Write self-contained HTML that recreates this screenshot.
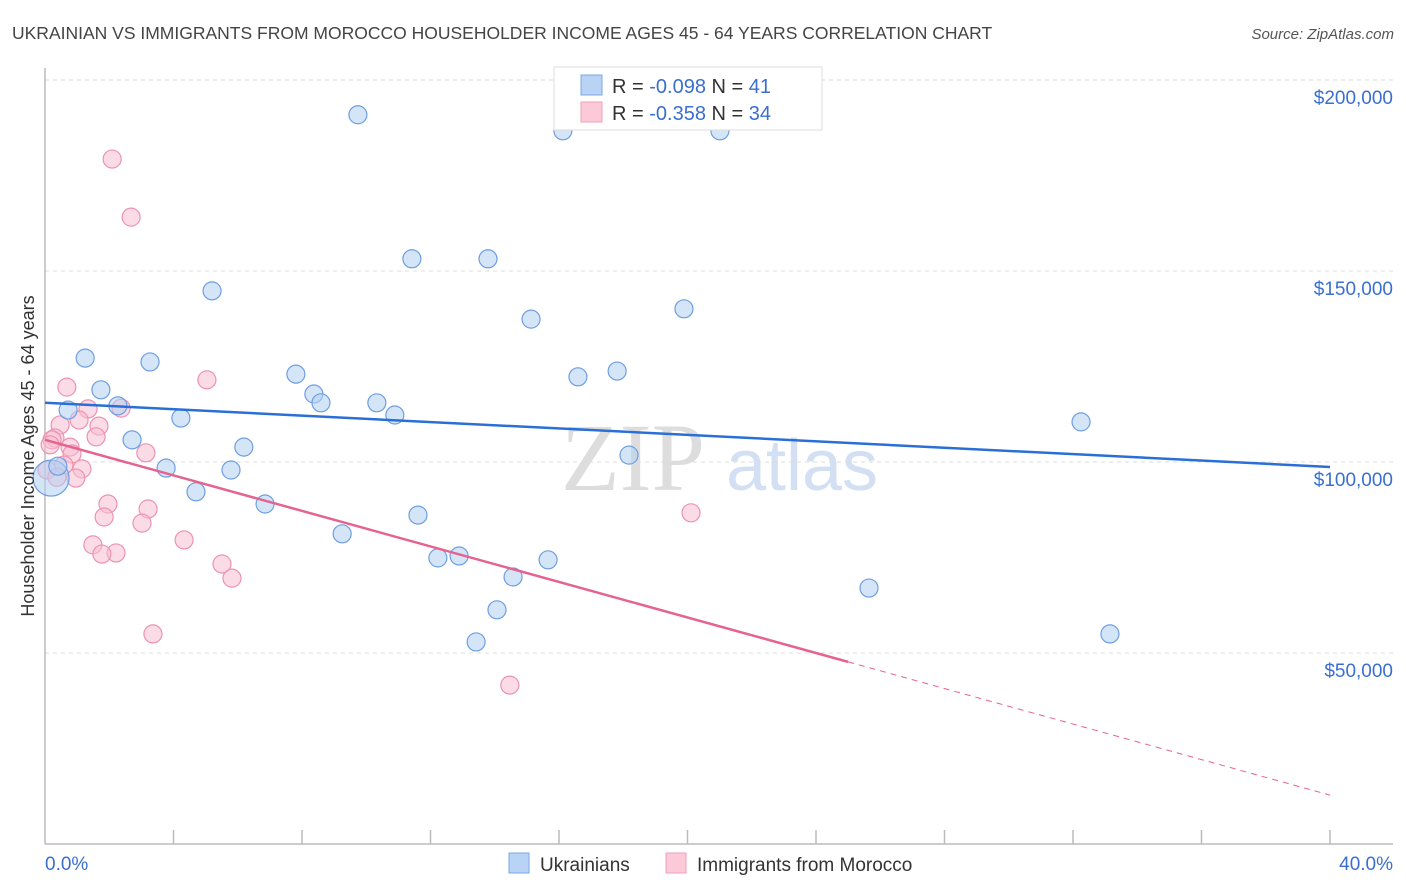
<!DOCTYPE html>
<html><head><meta charset="utf-8"><style>
body{margin:0;background:#fff;font-family:"Liberation Sans",sans-serif}
svg{display:block}
</style></head><body>
<svg id="chart" width="1406" height="892">
<text x="12" y="39" font-size="17.5" fill="#444">UKRAINIAN VS IMMIGRANTS FROM MOROCCO HOUSEHOLDER INCOME AGES 45 - 64 YEARS CORRELATION CHART</text>
<text x="1394" y="39" font-size="15" fill="#555" font-style="italic" text-anchor="end">Source: ZipAtlas.com</text>
<text x="633" y="490" font-size="96" fill="#ddd" font-family="Liberation Serif,serif" text-anchor="middle">ZIP</text>
<text x="802" y="490" font-size="72" fill="#d3e0f3" text-anchor="middle">atlas</text>
<g id="grid"></g><g id="axes"></g><g id="marks"></g>
<g>
<rect x="554" y="67" width="268" height="63" fill="#fff" stroke="#ddd"/>
<rect x="581" y="75" width="21" height="20" fill="#b9d3f5" stroke="#7aa7e6"/>
<rect x="581" y="102" width="21" height="20" fill="#fcc9d8" stroke="#f0a0bb"/>
<text x="612" y="93" font-size="20" fill="#333">R = <tspan fill="#3a6fd0">-0.098</tspan>   N = <tspan fill="#3a6fd0"> 41</tspan></text>
<text x="612" y="120" font-size="20" fill="#333">R = <tspan fill="#3a6fd0"> -0.358</tspan>   N = <tspan fill="#3a6fd0">34</tspan></text>
</g>
<g>
<rect x="509" y="853" width="20" height="20" fill="#b9d3f5" stroke="#7aa7e6"/>
<text x="540" y="871" font-size="19" fill="#333">Ukrainians</text>
<rect x="666" y="853" width="20" height="20" fill="#fcc9d8" stroke="#f0a0bb"/>
<text x="697" y="871" font-size="19" fill="#333">Immigrants from Morocco</text>
</g>
<text transform="translate(34,456) rotate(-90)" font-size="18" fill="#333" text-anchor="middle">Householder Income Ages 45 - 64 years</text>
</svg>
<script>
const yTicks=[50000,100000,150000,200000];
const yTickLabels=["$50,000","$100,000","$150,000","$200,000"];
const xTickLabels=["0.0%","40.0%"];
const blueX=[9.74,16.12,21.01,11.42,13.79,5.20,15.13,19.89,1.25,3.27,1.74,7.81,16.59,17.81,8.37,8.59,10.33,0.72,2.27,10.89,4.23,32.25,2.71,6.19,18.18,3.77,5.79,0.19,4.70,6.85,11.61,9.25,12.23,12.89,14.57,15.66,14.07,13.42,25.65,33.15,0.40];
const blueY=[190.9,186.7,186.7,153.2,153.2,144.8,137.4,140.1,127.2,126.2,118.9,123.0,122.3,123.8,117.8,115.5,115.5,113.6,114.7,112.3,111.5,110.5,105.8,103.9,101.8,98.4,97.9,95.8,92.2,89.0,86.1,81.2,74.9,75.4,69.9,74.4,61.3,52.9,67.0,55.0,98.9];
const pinkX=[2.09,2.68,5.04,0.68,1.34,2.37,1.06,0.47,1.68,1.59,0.31,0.78,0.84,0.59,1.15,0.06,0.96,3.14,1.96,1.84,3.21,3.02,20.11,4.33,1.49,2.21,1.77,5.51,5.82,3.36,14.47,0.22,0.37,0.16];
const pinkY=[179.3,164.1,121.5,119.6,113.9,114.1,111.0,109.7,109.4,106.6,106.3,103.9,102.1,99.2,98.2,97.9,95.8,102.4,89.0,85.6,87.7,84.0,86.7,79.6,78.3,76.2,75.9,73.3,69.6,55.0,41.6,105.8,96.0,104.5];
const blueTrend=[115.5,98.7];
const pinkTrend=[105.8,12.8];
const pinkSolidEnd=25.0;
const NS="http://www.w3.org/2000/svg";
const X0=45,X1=1330,Y0=844,PXK=191/50;
const sx=p=>X0+(p/40)*(X1-X0);
const sy=k=>Y0-k*PXK;
function mk(tag,attrs,parent){const e=document.createElementNS(NS,tag);for(const k in attrs)e.setAttribute(k,attrs[k]);parent.appendChild(e);return e;}
const grid=document.getElementById('grid'),axes=document.getElementById('axes'),marks=document.getElementById('marks');
yTicks.forEach((t,i)=>{
 const y=sy(t/1000);
 const l=mk('line',{x1:X0,x2:1393,y1:y,y2:y,stroke:'#ddd','stroke-dasharray':'4,4'},grid);
 
 
 const tx=mk('text',{x:1393,y:y+24,'font-size':19,fill:'#3a6fd0','text-anchor':'end'},axes);
 tx.textContent=yTickLabels[i];
 
 
});
let a=mk('line',{x1:X0,x2:X0,y1:68,y2:Y0,stroke:'#bbb','stroke-width':1.5},axes);


a=mk('line',{x1:X0,x2:1393,y1:Y0,y2:Y0,stroke:'#bbb','stroke-width':1.5},axes);


for(let i=1;i<=10;i++){const x=sx(i*4);
 const t=mk('line',{x1:x,x2:x,y1:830,y2:Y0,stroke:'#bbb','stroke-width':1.5},axes);
 
 }
let xl=mk('text',{x:45,y:870,'font-size':19,fill:'#3a6fd0'},axes);xl.textContent=xTickLabels[0];


xl=mk('text',{x:1393,y:870,'font-size':19,fill:'#3a6fd0','text-anchor':'end'},axes);xl.textContent=xTickLabels[1];


function pts(xs,ys,fill,stroke,name){xs.forEach((v,i)=>{
 const r=(name==='point-ukrainian'&&i===27)?18:9;
 const c=mk('circle',{cx:sx(v),cy:sy(ys[i]),r:r,fill:fill,'fill-opacity':0.55,stroke:stroke,'stroke-width':1.2},marks);
 
 });}
pts(pinkX,pinkY,'#f8bfd1','#ec93b0','point-morocco');
pts(blueX,blueY,'#b3cff3','#6e9ee2','point-ukrainian');
let ln=mk('line',{x1:sx(0),y1:sy(blueTrend[0]),x2:sx(40),y2:sy(blueTrend[1]),stroke:'#2a6fd6','stroke-width':2.5},marks);


const pe=pinkTrend[0]+(pinkTrend[1]-pinkTrend[0])*pinkSolidEnd/40;
ln=mk('line',{x1:sx(0),y1:sy(pinkTrend[0]),x2:sx(pinkSolidEnd),y2:sy(pe),stroke:'#e5638f','stroke-width':2.5},marks);


ln=mk('line',{x1:sx(pinkSolidEnd),y1:sy(pe),x2:sx(40),y2:sy(pinkTrend[1]),stroke:'#e5638f','stroke-width':1,'stroke-dasharray':'6,5'},marks);


</script>
</body></html>
